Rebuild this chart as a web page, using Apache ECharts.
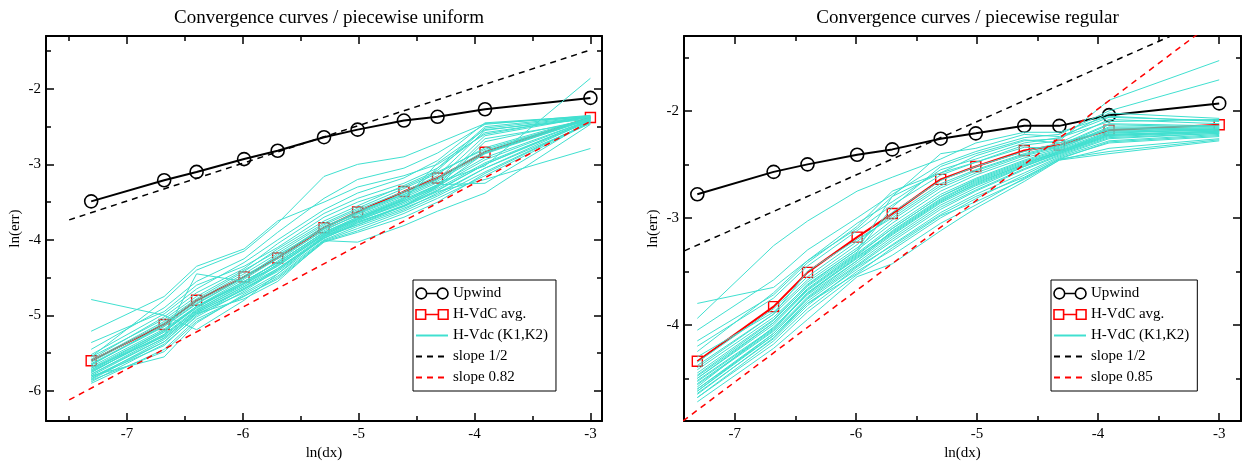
<!DOCTYPE html>
<html><head><meta charset="utf-8">
<script src="https://cdn.jsdelivr.net/npm/echarts@6/dist/echarts.min.js"></script>
<style>html,body{margin:0;padding:0;background:#fff}#c{width:1250px;height:466px}</style>
</head><body><div id="c"></div>
<script>
// ---------- data ----------
const lnDx = [-7.31, -6.68, -6.40, -5.99, -5.70, -5.30, -5.01, -4.61, -4.32, -3.91, -3.00];

const upwindUniform = [-3.49, -3.21, -3.10, -2.93, -2.82, -2.64, -2.54, -2.42, -2.37, -2.27, -2.12];
const avgUniform    = [-5.60, -5.12, -4.80, -4.49, -4.24, -3.84, -3.63, -3.36, -3.18, -2.84, -2.38];
const slopeX        = [-7.5, -3.0];
const slopeHalfUniform = [-3.735, -1.485];
const slope082Uniform  = [-6.12, -2.43];

const upwindRegular = [-2.78, -2.57, -2.50, -2.41, -2.36, -2.26, -2.21, -2.14, -2.14, -2.04, -1.93];
const avgRegular    = [-4.34, -3.83, -3.51, -3.18, -2.96, -2.64, -2.52, -2.37, -2.32, -2.18, -2.13];
const slopeHalfRegular = [-3.35, -1.10];
const slope085Regular  = [-4.96, -1.13];

const hvdcUniform = [
  [-5.78, -5.30, -4.95, -4.62, -4.38, -3.95, -3.75, -3.50, -3.30, -2.70, -2.40],
  [-5.85, -5.35, -4.98, -4.70, -4.45, -4.00, -3.82, -3.60, -3.38, -3.05, -2.42],
  [-5.72, -5.20, -4.90, -4.55, -4.30, -3.90, -3.70, -3.45, -3.05, -2.58, -2.38],
  [-5.65, -5.15, -4.85, -4.50, -4.20, -3.85, -3.62, -3.40, -3.20, -2.62, -2.37],
  [-5.90, -5.45, -5.05, -4.75, -4.50, -4.02, -3.88, -3.65, -3.45, -3.15, -2.45],
  [-5.82, -5.40, -5.00, -4.65, -4.42, -3.98, -3.78, -3.55, -3.35, -3.00, -2.41],
  [-5.36, -4.95, -4.60, -4.35, -4.10, -3.70, -3.50, -3.30, -3.10, -2.80, -2.39],
  [-4.79, -5.00, -5.19, -4.80, -4.45, -3.95, -3.80, -3.55, -3.30, -2.85, -2.40],
  [-5.21, -4.75, -4.35, -4.12, -3.75, -3.50, -3.30, -3.15, -3.00, -2.60, -2.36],
  [-5.55, -5.05, -4.75, -4.40, -4.15, -3.78, -3.58, -3.32, -3.12, -2.78, -2.38],
  [-5.75, -5.25, -4.92, -4.60, -4.32, -3.92, -3.72, -3.48, -3.28, -2.66, -2.43],
  [-5.68, -5.18, -4.88, -4.52, -4.25, -3.88, -3.66, -3.42, -3.22, -2.86, -2.40],
  [-5.80, -5.55, -5.10, -4.72, -4.48, -4.01, -3.85, -3.62, -3.42, -3.10, -2.44],
  [-5.62, -5.10, -4.80, -4.45, -4.18, -3.80, -3.60, -3.36, -3.15, -2.55, -2.37],
  [-5.88, -5.38, -5.02, -4.68, -4.40, -3.97, -3.80, -3.58, -3.40, -3.05, -2.46],
  [-5.70, -5.28, -4.93, -4.58, -4.35, -3.93, -3.74, -3.52, -3.32, -2.98, -2.42],
  [-5.58, -5.02, -4.70, -4.38, -4.05, -3.65, -3.45, -3.25, -3.05, -2.50, -2.36],
  [-5.45, -4.90, -4.55, -4.25, -3.90, -3.45, -3.20, -3.05, -2.85, -2.47, -2.35],
  [-5.84, -5.32, -4.97, -4.64, -4.40, -3.96, -3.76, -3.56, -3.36, -3.20, -2.79],
  [-5.76, -5.22, -4.88, -4.58, -4.28, -3.86, -3.68, -3.44, -3.24, -3.02, -1.86],
  [-5.66, -5.12, -4.82, -4.48, -4.22, -3.82, -3.64, -3.38, -3.18, -2.82, -2.39],
  [-5.86, -5.48, -5.08, -4.74, -4.52, -4.03, -3.90, -3.70, -3.50, -3.12, -2.44],
  [-5.60, -5.08, -4.78, -4.42, -4.12, -3.75, -3.55, -3.28, -3.08, -2.52, -2.37],
  [-5.74, -5.26, -4.94, -4.62, -4.34, -3.94, -3.73, -3.50, -3.29, -2.94, -2.41],
  [-5.52, -4.98, -4.65, -4.30, -4.00, -3.60, -3.38, -3.18, -2.95, -2.45, -2.36],
  [-5.80, -5.30, -4.96, -4.66, -4.38, -3.98, -3.77, -3.54, -3.34, -3.00, -2.43],
  [-5.70, -5.20, -4.88, -4.55, -4.30, -3.90, -3.70, -3.47, -2.98, -2.54, -2.40],
  [-5.64, -5.14, -4.84, -4.50, -4.24, -3.84, -3.65, -3.40, -3.20, -2.84, -2.39],
  [-5.78, -5.27, -4.45, -4.55, -4.30, -3.90, -3.72, -3.48, -3.27, -3.25, -2.42],
  [-5.73, -5.22, -4.90, -4.57, -4.33, -3.92, -3.72, -3.46, -3.27, -2.91, -2.41],
  [-5.55, -4.80, -4.40, -4.15, -3.78, -3.16, -3.00, -2.90, -2.72, -2.46, -2.37],
  [-5.82, -5.35, -4.98, -4.78, -4.55, -4.01, -4.03, -3.81, -3.62, -3.38, -2.47]
];

const hvdcRegular = [
  [-4.50, -4.00, -3.68, -3.35, -3.10, -2.80, -2.65, -2.48, -2.38, -2.20, -2.18],
  [-4.60, -4.08, -3.75, -3.42, -3.18, -2.88, -2.72, -2.52, -2.40, -2.24, -2.20],
  [-4.40, -3.90, -3.60, -3.28, -3.02, -2.72, -2.58, -2.42, -2.34, -2.15, -2.15],
  [-4.65, -4.12, -3.80, -3.48, -3.25, -2.95, -2.78, -2.58, -2.43, -2.28, -2.22],
  [-3.80, -3.65, -3.40, -3.05, -2.85, -2.55, -2.45, -2.30, -2.25, -2.10, -2.08],
  [-3.94, -3.26, -3.03, -2.75, -2.62, -2.45, -2.30, -2.20, -2.20, -2.05, -2.10],
  [-4.05, -3.58, -3.30, -3.00, -2.78, -2.50, -2.38, -2.25, -2.22, -2.00, -1.71],
  [-4.20, -3.75, -3.45, -3.12, -2.88, -2.60, -2.48, -2.32, -2.28, -1.90, -1.53],
  [-4.72, -4.22, -3.95, -3.55, -3.43, -3.12, -2.91, -2.66, -2.46, -2.40, -2.28],
  [-4.55, -4.05, -3.70, -3.38, -3.15, -2.85, -2.68, -2.50, -2.39, -2.22, -2.19],
  [-4.45, -3.95, -3.62, -3.30, -3.05, -2.75, -2.60, -2.44, -2.35, -2.17, -2.16],
  [-4.62, -4.10, -3.78, -3.45, -3.22, -2.92, -2.75, -2.55, -2.42, -2.26, -2.21],
  [-4.35, -3.85, -3.55, -3.22, -2.98, -2.68, -2.55, -2.40, -2.32, -2.12, -2.14],
  [-4.58, -4.02, -3.72, -3.40, -3.12, -2.82, -2.66, -2.49, -2.38, -2.21, -2.17],
  [-4.48, -3.98, -3.66, -3.33, -3.08, -2.78, -2.63, -2.46, -2.36, -2.19, -2.17],
  [-4.68, -4.15, -3.85, -3.50, -3.30, -3.00, -2.82, -2.60, -2.44, -2.30, -2.24],
  [-4.30, -3.88, -3.58, -3.25, -2.95, -2.65, -2.52, -2.38, -2.30, -2.08, -2.12],
  [-4.52, -4.03, -3.70, -3.36, -3.14, -2.84, -2.69, -2.51, -2.40, -2.23, -2.20],
  [-4.62, -4.08, -3.76, -3.44, -3.20, -2.90, -2.74, -2.54, -2.41, -2.25, -2.21],
  [-4.25, -3.70, -3.40, -3.10, -2.80, -2.40, -2.35, -2.22, -2.24, -2.06, -2.09],
  [-4.56, -4.06, -3.74, -3.40, -3.16, -2.86, -2.70, -2.52, -2.39, -2.23, -2.19],
  [-4.42, -3.93, -3.63, -3.30, -2.80, -2.58, -2.48, -2.34, -2.35, -2.16, -2.16],
  [-4.64, -4.13, -3.82, -3.46, -3.26, -2.97, -2.80, -2.62, -2.45, -2.29, -2.23],
  [-4.50, -3.98, -3.67, -3.34, -3.10, -2.80, -2.64, -2.47, -2.37, -2.20, -2.18],
  [-4.38, -3.90, -3.50, -3.20, -3.00, -2.70, -2.56, -2.41, -2.33, -2.13, -2.15],
  [-4.60, -4.10, -3.80, -3.52, -3.28, -2.98, -2.85, -2.64, -2.46, -2.35, -2.26],
  [-4.47, -3.96, -3.64, -3.32, -2.90, -2.52, -2.40, -2.27, -2.30, -2.18, -2.17],
  [-4.53, -4.04, -3.71, -3.37, -3.13, -2.83, -2.67, -2.50, -2.38, -2.22, -2.19],
  [-4.15, -3.72, -3.42, -3.08, -2.75, -2.58, -2.42, -2.28, -2.26, -2.02, -2.07],
  [-4.68, -4.18, -3.88, -3.53, -3.35, -3.05, -2.88, -2.63, -2.45, -2.38, -2.27]
];

const xMajor = [-7, -6, -5, -4, -3];
const xMinorUniform = [-7.5, -6.5, -5.5, -4.5, -3.5];
const xMinorRegular = [-6.5, -5.5, -4.5, -3.5];
const yMajorUniform = [-6, -5, -4, -3, -2];
const yMinorUniform = [-5.5, -4.5, -3.5, -2.5, -1.5];
const yMajorRegular = [-4, -3, -2];
const yMinorRegular = [-4.5, -3.5, -2.5, -1.5];

const titles = ['Convergence curves / piecewise uniform', 'Convergence curves / piecewise regular'];
const legendNamesUniform = ['Upwind', 'H-VdC avg.', 'H-Vdc (K1,K2)', 'slope 1/2', 'slope 0.82'];
const legendNamesRegular = ['Upwind', 'H-VdC avg.', 'H-VdC (K1,K2)', 'slope 1/2', 'slope 0.85'];

// ---------- build ----------
const FONT = 'Liberation Serif';
const pair = (xs, ys) => ys.map((v, i) => [xs[i], v]);

const ICON_CIRCLES = 'path://M1,7a5,5 0 1,0 10,0a5,5 0 1,0 -10,0M11,7L21,7M21,7a5,5 0 1,0 10,0a5,5 0 1,0 -10,0';
const ICON_SQUARES = 'path://M1,2.5h9v9h-9zM10,7L22,7M22,2.5h9v9h-9z';

const panels = [
  {grid: {left: 46, right: 648, top: 36, bottom: 39}, xr: [-7.7, -2.9], yr: [-6.4, -1.3],
   xMin: xMinorUniform, yMaj: yMajorUniform, yMin: yMinorUniform,
   up: upwindUniform, avg: avgUniform, hv: hvdcUniform, sh: slopeHalfUniform, sr: slope082Uniform,
   names: legendNamesUniform, legend: {left: 413, top: 280}},
  {grid: {left: 684, right: 9, top: 36, bottom: 39}, xr: [-7.42, -2.82], yr: [-4.9, -1.3],
   xMin: xMinorRegular, yMaj: yMajorRegular, yMin: yMinorRegular,
   up: upwindRegular, avg: avgRegular, hv: hvdcRegular, sh: slopeHalfRegular, sr: slope085Regular,
   names: legendNamesRegular, legend: {left: 1051, top: 280}}
];

const grid = [], xAxis = [], yAxis = [], series = [], title = [], legend = [];

function axis(gi, pos, range, ticks, len, withLine, labels, name) {
  const a = {
    type: 'value', gridIndex: gi, position: pos, min: range[0], max: range[1],
    splitLine: {show: false},
    axisLine: {show: withLine, onZero: false, lineStyle: {color: '#000', width: 2}},
    axisTick: {show: true, inside: true, length: len, customValues: ticks, lineStyle: {color: '#000', width: 1.5}},
    axisLabel: labels ? {show: true, customValues: labels, color: '#000', fontFamily: FONT, fontSize: 15, margin: 5}
                      : {show: false}
  };
  if (name) {
    a.name = name; a.nameLocation = 'middle';
    a.nameTextStyle = {color: '#000', fontFamily: FONT, fontSize: 15};
  }
  return a;
}

panels.forEach((p, gi) => {
  grid.push(p.grid);
  const xb = axis(gi, 'bottom', p.xr, xMajor, 8, true, xMajor, 'ln(dx)');
  xb.nameGap = 19;
  xAxis.push(xb);
  xAxis.push(axis(gi, 'bottom', p.xr, p.xMin, 5, false, null));
  xAxis.push(axis(gi, 'top', p.xr, xMajor, 8, true, null));
  xAxis.push(axis(gi, 'top', p.xr, p.xMin, 5, false, null));
  const yl = axis(gi, 'left', p.yr, p.yMaj, 8, true, p.yMaj, 'ln(err)');
  yl.nameGap = 23;
  yAxis.push(yl);
  yAxis.push(axis(gi, 'left', p.yr, p.yMin, 5, false, null));
  yAxis.push(axis(gi, 'right', p.yr, p.yMaj, 8, true, null));
  yAxis.push(axis(gi, 'right', p.yr, p.yMin, 5, false, null));

  const xi = gi * 4, yi = gi * 4;
  const cx = gi === 0 ? (46 + 602) / 2 : (684 + 1241) / 2;
  title.push({text: titles[gi], left: cx, top: 4, textAlign: 'center',
    textStyle: {color: '#000', fontFamily: FONT, fontSize: 19, fontWeight: 'normal'}});

  series.push({name: p.names[0], type: 'line', xAxisIndex: xi, yAxisIndex: yi, data: pair(lnDx, p.up),
    symbol: 'circle', symbolSize: 13, z: 3,
    lineStyle: {color: '#000', width: 2}, itemStyle: {color: 'rgba(255,255,255,0)', borderColor: '#000', borderWidth: 1.6}});
  series.push({name: p.names[1], type: 'line', xAxisIndex: xi, yAxisIndex: yi, data: pair(lnDx, p.avg),
    symbol: 'rect', symbolSize: 10, z: 3,
    lineStyle: {color: '#ff0000', width: 2}, itemStyle: {color: 'rgba(255,255,255,0)', borderColor: '#ff0000', borderWidth: 1.4}});
  p.hv.forEach(row => {
    series.push({name: p.names[2], type: 'line', xAxisIndex: xi, yAxisIndex: yi, data: pair(lnDx, row),
      symbol: 'none', z: 4, lineStyle: {color: '#40e0d0', width: 1}, itemStyle: {color: '#40e0d0'}});
  });
  series.push({name: p.names[3], type: 'line', xAxisIndex: xi, yAxisIndex: yi, data: pair(slopeX, p.sh),
    symbol: 'none', z: 5, lineStyle: {color: '#000', width: 1.5, type: [6, 5]}, itemStyle: {color: '#000'}});
  series.push({name: p.names[4], type: 'line', xAxisIndex: xi, yAxisIndex: yi, data: pair(slopeX, p.sr),
    symbol: 'none', z: 5, lineStyle: {color: '#ff0000', width: 1.5, type: [6, 5]}, itemStyle: {color: '#ff0000'}});

  const hidden = {opacity: 0, color: 'rgba(0,0,0,0)', borderWidth: 0};
  legend.push({
    data: [
      {name: p.names[0], icon: ICON_CIRCLES, itemStyle: {color: 'rgba(255,255,255,0)', borderColor: '#000', borderWidth: 1.6}},
      {name: p.names[1], icon: ICON_SQUARES, itemStyle: {color: 'rgba(255,255,255,0)', borderColor: '#ff0000', borderWidth: 1.6}},
      {name: p.names[2], itemStyle: hidden},
      {name: p.names[3], itemStyle: hidden},
      {name: p.names[4], itemStyle: hidden}
    ],
    orient: 'vertical', left: p.legend.left, top: p.legend.top,
    backgroundColor: '#fff', borderColor: '#000', borderWidth: 1, padding: [6, 8, 6, 2],
    itemWidth: 32, itemHeight: 14, itemGap: 6, selectedMode: false,
    textStyle: {color: '#000', fontFamily: FONT, fontSize: 15}});
});

const chart = echarts.init(document.getElementById('c'), null, {renderer: 'canvas'});
chart.setOption({animation: false, backgroundColor: '#fff', title, grid, xAxis, yAxis, series, legend});
</script></body></html>
